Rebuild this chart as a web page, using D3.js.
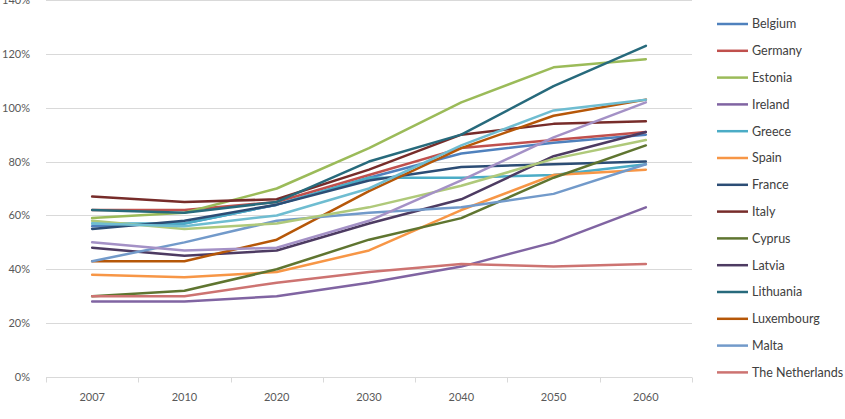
<!DOCTYPE html>
<html>
<head>
<meta charset="utf-8">
<script src="https://cdn.jsdelivr.net/npm/d3@7"></script>
<style>
  body { margin: 0; background: #fff; }
  svg { display: block; font-family: Lato, "Open Sans", sans-serif; }
</style>
</head>
<body>
<div id="chart"></div>
<script>
// categories on the x axis
const years = ["2007", "2010", "2020", "2030", "2040", "2050", "2060"];

// y axis ticks (share, 0..1.4)
const yTicks = [0, 0.2, 0.4, 0.6, 0.8, 1.0, 1.2, 1.4];

// series values (percent)
const belgium     = [56, 57, 64, 74, 83, 87, 90];
const germany     = [62, 62, 65, 75, 85, 88, 91];
const estonia     = [59, 61, 70, 85, 102, 115, 118];
const ireland     = [28, 28, 30, 35, 41, 50, 63];
const greece      = [57, 57, 64, 74, 74, 75, 79];
const spain       = [38, 37, 39, 47, 62, 75, 77];
const france      = [55, 58, 64, 73, 78, 79, 80];
const italy       = [67, 65, 66, 77, 90, 94, 95];
const cyprus      = [30, 32, 40, 51, 59, 74, 86];
const latvia      = [48, 45, 47, 57, 66, 82, 91];
const lithuania   = [62, 61, 65, 80, 90, 108, 123];
const luxembourg  = [43, 43, 51, 69, 85, 97, 103];
const malta       = [43, 50, 58, 61, 63, 68, 79];
const netherlands = [30, 30, 35, 39, 42, 41, 42];
// series drawn in the plot but cut from the legend
const extra15     = [58, 55, 57, 63, 71, 81, 88];
const extra16     = [50, 47, 48, 58, 73, 89, 102];
const extra17     = [57, 56, 60, 70, 86, 99, 103];

const names = ["Belgium", "Germany", "Estonia", "Ireland", "Greece", "Spain", "France",
  "Italy", "Cyprus", "Latvia", "Lithuania", "Luxembourg", "Malta", "The Netherlands",
  "Series 15", "Series 16", "Series 17"];
const values = [belgium, germany, estonia, ireland, greece, spain, france, italy, cyprus,
  latvia, lithuania, luxembourg, malta, netherlands, extra15, extra16, extra17];
const legendCount = 14;

const colors = ["#4F81BD", "#C0504D", "#9BBB59", "#8064A2", "#4BACC6", "#F79646", "#2C4D75",
  "#772C2A", "#5F7530", "#4D3B62", "#276A7C", "#B65708", "#729ACA", "#CD7371",
  "#AFC97A", "#A491C6", "#6FBDD1"];

const series = names.map((name, i) => ({
  name: name,
  color: colors[i],
  points: years.map((y, j) => ({ year: y, value: values[i][j] / 100 }))
}));

const width = 845;
const height = 419;
const margin = { top: 0, right: 153, bottom: 42, left: 46 };

const svg = d3.select("#chart")
  .append("svg")
    .attr("width", width)
    .attr("height", height)
    .attr("viewBox", [0, 0, width, height]);

const x = d3.scaleBand()
  .domain(years)
  .range([margin.left, width - margin.right]);

const y = d3.scaleLinear()
  .domain([0, 1.4])
  .range([height - margin.bottom, margin.top]);

// horizontal grid lines
svg.append("g")
    .attr("stroke", "#d9d9d9")
    .attr("stroke-width", 1)
  .selectAll("line")
  .data(yTicks.slice(1))
  .join("line")
    .attr("x1", margin.left)
    .attr("x2", width - margin.right)
    .attr("y1", d => Math.round(y(d)) + 0.5)
    .attr("y2", d => Math.round(y(d)) + 0.5);

// y axis labels
const yAxis = svg.append("g")
    .attr("transform", `translate(${margin.left - 13},0)`)
    .call(d3.axisLeft(y).tickValues(yTicks).tickFormat(d3.format(".0%")).tickSize(0));
yAxis.select(".domain").remove();
yAxis.selectAll("text")
    .attr("fill", "#595959")
    .attr("font-size", 11)
    .attr("font-family", "Lato, sans-serif");

// x axis with tick marks between categories
const xAxisY = Math.round(y(0)) + 0.5;
const xAxis = svg.append("g")
    .attr("transform", `translate(0,${xAxisY})`);
xAxis.append("line")
    .attr("x1", margin.left)
    .attr("x2", width - margin.right)
    .attr("stroke", "#d9d9d9");
xAxis.selectAll("line.tick")
  .data(years.concat(["end"]))
  .join("line")
    .attr("class", "tick")
    .attr("x1", (d, i) => Math.round(margin.left + i * x.step()) + 0.5)
    .attr("x2", (d, i) => Math.round(margin.left + i * x.step()) + 0.5)
    .attr("y1", 0)
    .attr("y2", 5)
    .attr("stroke", "#d9d9d9");
xAxis.selectAll("text")
  .data(years)
  .join("text")
    .attr("x", d => x(d) + x.bandwidth() / 2)
    .attr("y", 23)
    .attr("text-anchor", "middle")
    .attr("fill", "#595959")
    .attr("font-size", 11)
    .text(d => d);

// lines
const line = d3.line()
  .x(d => x(d.year) + x.bandwidth() / 2)
  .y(d => y(d.value));

svg.append("g")
    .attr("fill", "none")
    .attr("stroke-width", 2.5)
    .attr("stroke-linejoin", "round")
    .attr("stroke-linecap", "round")
  .selectAll("path")
  .data(series)
  .join("path")
    .attr("stroke", d => d.color)
    .attr("d", d => line(d.points));

// legend
const legend = svg.append("g")
  .selectAll("g")
  .data(series.slice(0, legendCount))
  .join("g")
    .attr("transform", (d, i) => `translate(717,${24 + i * 26.8})`);

legend.append("line")
    .attr("x1", 0)
    .attr("x2", 31)
    .attr("stroke", d => d.color)
    .attr("stroke-width", 2.5);

legend.append("text")
    .attr("x", 35)
    .attr("dy", "0.35em")
    .attr("fill", "#404040")
    .attr("font-size", 12.5)
    .text(d => d.name);
</script>
</body>
</html>
